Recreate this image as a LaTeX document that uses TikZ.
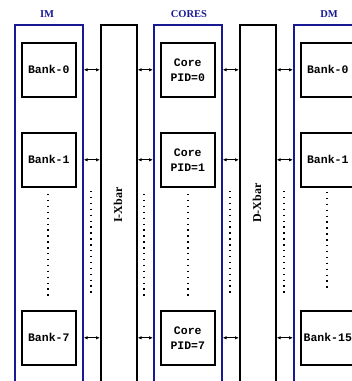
\documentclass[tikz,border=0pt]{standalone}
\usepackage{fontspec}
\setmainfont{Liberation Serif}
\newfontfamily\boxfont{Liberation Mono}
\usetikzlibrary{arrows.meta}
\definecolor{navy}{rgb}{0.1,0.1,0.58}
\tikzset{
  container/.style={draw=navy, line width=1.6pt, minimum width=68pt, minimum height=400pt, inner sep=0pt, anchor=north west},
  xbarbox/.style={draw=black, line width=1.6pt, minimum width=36pt, minimum height=400pt, inner sep=0pt, anchor=north west},
  unitbox/.style={draw=black, line width=1.6pt, minimum width=54pt, minimum height=54pt, inner sep=0pt, anchor=north west, align=center, font=\boxfont\bfseries\fontsize{11.5}{15}\selectfont},
  grouplabel/.style={text=navy, font=\bfseries\fontsize{10.5}{12}\selectfont, inner sep=0pt},
  xbarlabel/.style={rotate=90, font=\bfseries\fontsize{12}{14}\selectfont, inner sep=0pt},
  biarrow/.style={{Latex[length=4pt,width=3.4pt]}-{Latex[length=4pt,width=3.4pt]}, line width=0.9pt},
  dotline/.style={line width=1.4pt, dash pattern=on 1.4pt off 4.5pt},
}
\begin{document}
\begin{tikzpicture}[x=1pt,y=-1pt]
\clip (0,0) rectangle (352,381);
% group labels
\node[grouplabel] (lim) at (47,14) {IM};
\node[grouplabel] (lcores) at (189,14) {CORES};
\node[grouplabel] (ldm) at (329,14) {DM};
% containers and crossbars
\node[container] (im) at (14,24) {};
\node[xbarbox] (ix) at (100,24) {};
\node[container] (cores) at (153,24) {};
\node[xbarbox] (dx) at (239,24) {};
\node[container] (dm) at (293,24) {};
\node[xbarlabel] (ixl) at (118,205) {I-Xbar};
\node[xbarlabel] (dxl) at (257,203) {D-Xbar};
% units
\node[unitbox] (ib0) at (21,42) {Bank-0};
\node[unitbox] (ib1) at (21,132) {Bank-1};
\node[unitbox] (ib7) at (21,310) {Bank-7};
\node[unitbox] (c0) at (160,42) {Core\\PID=0};
\node[unitbox] (c1) at (160,132) {Core\\PID=1};
\node[unitbox] (c7) at (160,310) {Core\\PID=7};
\node[unitbox] (db0) at (300,42) {Bank-0};
\node[unitbox] (db1) at (300,132) {Bank-1};
\node[unitbox] (db15) at (300,310) {Bank-15};
% connectors
\foreach \b/\c/\d in {ib0/c0/db0, ib1/c1/db1, ib7/c7/db15}{
  \draw[biarrow] (\b.east -| im.east) -- (\b.east -| ix.west);
  \draw[biarrow] (\c.east -| ix.east) -- (\c.east -| cores.west);
  \draw[biarrow] (\c.east -| cores.east) -- (\c.east -| dx.west);
  \draw[biarrow] (\d.east -| dx.east) -- (\d.east -| dm.west);
}
% dotted continuation lines
\draw[dotline] (48,194) -- (48,298);
\draw[dotline] (91,191) -- (91,295);
\draw[dotline] (144,194) -- (144,297);
\draw[dotline] (188,194) -- (188,298);
\draw[dotline] (230,191) -- (230,295);
\draw[dotline] (284,191) -- (284,295);
\draw[dotline] (327,186) -- (327,289);
\end{tikzpicture}
\end{document}
